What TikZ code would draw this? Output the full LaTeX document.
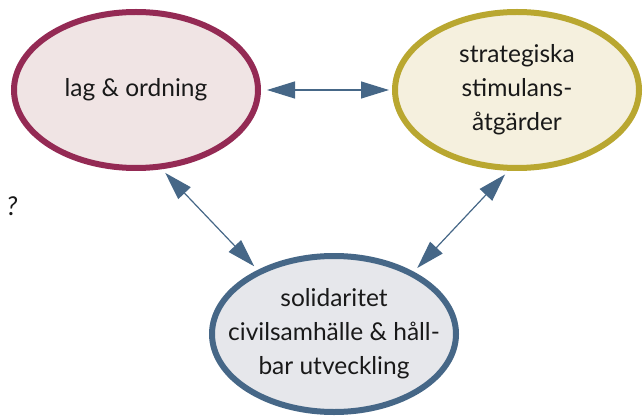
\documentclass[tikz,border=0pt]{standalone}
\usepackage{fontspec}
\setmainfont{Lato}
\usetikzlibrary{arrows.meta,shapes.geometric}
\definecolor{lborder}{RGB}{148,42,84}
\definecolor{lfill}{RGB}{240,228,228}
\definecolor{rborder}{RGB}{185,167,48}
\definecolor{rfill}{RGB}{245,240,222}
\definecolor{bborder}{RGB}{70,103,135}
\definecolor{bfill}{RGB}{230,231,235}
\definecolor{arrowc}{RGB}{70,103,135}
\definecolor{txt}{RGB}{25,25,25}
\tikzset{
  topic/.style={ellipse, line width=6pt, minimum width=244pt, minimum height=156pt,
    inner xsep=-40pt, inner ysep=-20pt, align=center, text=txt,
    font=\fontsize{24.5}{34}\selectfont},
  link/.style={draw=arrowc, line width=1.2pt,
    {Triangle[length=28pt,width=17pt]}-{Triangle[length=28pt,width=17pt]}}
}
\begin{document}
\begin{tikzpicture}[x=1pt,y=1pt]
\useasboundingbox (0,0) rectangle (644,418);
\node[topic, draw=lborder, fill=lfill] (L) at (136,328) {lag \& ordning};
\node[topic, draw=rborder, fill=rfill] (R) at (517,328) {strategiska\\stimulans-\\åtgärder};
\node[topic, draw=bborder, fill=bfill] (B) at (334,84) {solidaritet\\civilsamhälle \& håll-\\bar utveckling};
\node[font=\itshape\fontsize{26}{30}\selectfont, text=txt] (q) at (12,212) {?};
\draw[link, shorten <=6pt, shorten >=3pt] (L.east) -- (R.west);
\draw[link, shorten <=5pt, shorten >=5pt] (L.-72) -- (B.140);
\draw[link, shorten <=5pt, shorten >=5pt] (R.-96) -- (B.38);
\end{tikzpicture}
\end{document}
